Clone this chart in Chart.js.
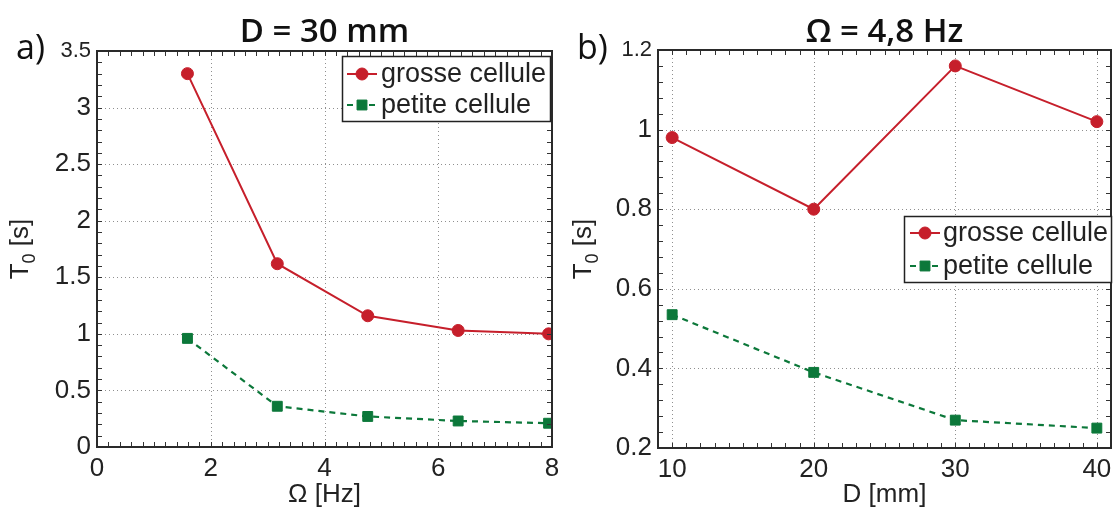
<!DOCTYPE html>
<html>
<head>
<meta charset="utf-8">
<script src="https://cdn.jsdelivr.net/npm/chart.js@4/dist/chart.umd.min.js"></script>
<style>
  html, body { margin: 0; padding: 0; background: #fff; }
  #wrap { position: relative; width: 1119px; height: 509px; overflow: hidden; }
  canvas { position: absolute; top: 0; }
</style>
</head>
<body>
<div id="wrap">
  <canvas id="panelA" width="560" height="509" style="left:0px"></canvas>
  <canvas id="panelB" width="559" height="509" style="left:560px"></canvas>
</div>
<script>
// ---------- data ----------
const seriesNames = ['grosse cellule', 'petite cellule'];

// panel a) : D = 30 mm
const omegaHz        = [1.59, 3.17, 4.76, 6.35, 7.94];
const grosseVsOmega  = [3.30, 1.62, 1.16, 1.03, 1.00];
const petiteVsOmega  = [0.96, 0.36, 0.27, 0.23, 0.21];
const omegaTicks      = [0, 2, 4, 6, 8];
const omegaTickLabels = ['0', '2', '4', '6', '8'];
const t0TicksA        = [0, 0.5, 1, 1.5, 2, 2.5, 3, 3.5];
const t0TickLabelsA   = ['0', '0.5', '1', '1.5', '2', '2.5', '3', '3.5'];

// panel b) : Omega = 4,8 Hz
const diameterMm   = [10, 20, 30, 40];
const grosseVsD    = [0.98, 0.80, 1.16, 1.02];
const petiteVsD    = [0.535, 0.39, 0.27, 0.25];
const dTicks        = [10, 20, 30, 40];
const dTickLabels   = ['10', '20', '30', '40'];
const t0TicksB      = [0.2, 0.4, 0.6, 0.8, 1, 1.2];
const t0TickLabelsB = ['0.2', '0.4', '0.6', '0.8', '1', '1.2'];

// ---------- style ----------
const RED = '#c61f2b';
const GREEN = '#0c783a';
const INK = '#222222';
const TICK_FONT = 'Liberation Sans';
const TITLE_FONT = 'Open Sans';

function labelFor(ticks, labels, v) {
  const i = ticks.findIndex(t => Math.abs(t - v) < 1e-9);
  return i >= 0 ? labels[i] : '';
}

function panelPlugin(p) {
  return {
    id: 'panelDecor' + p.key,
    beforeDatasetsDraw(chart) {
      const { ctx, chartArea: a, scales: { x, y } } = chart;
      ctx.save();
      ctx.strokeStyle = '#8f8f8f';
      ctx.lineWidth = 1;
      ctx.setLineDash([1, 3]);
      p.xTicks.forEach(v => {
        const px = Math.round(x.getPixelForValue(v)) + 0.5;
        if (px > a.left + 2 && px < a.right - 2) {
          ctx.beginPath(); ctx.moveTo(px, a.top); ctx.lineTo(px, a.bottom); ctx.stroke();
        }
      });
      p.yTicks.forEach(v => {
        const py = Math.round(y.getPixelForValue(v)) + 0.5;
        if (py > a.top + 2 && py < a.bottom - 2) {
          ctx.beginPath(); ctx.moveTo(a.left, py); ctx.lineTo(a.right, py); ctx.stroke();
        }
      });
      ctx.restore();
    },
    afterDatasetsDraw(chart) {
      const { ctx, chartArea: a, scales: { x, y } } = chart;
      ctx.save();
      ctx.setLineDash([]);
      // minor + major tick marks on all four sides (inward)
      ctx.strokeStyle = '#333';
      ctx.lineWidth = 1;
      const TL = 5;
      const xs = [];
      for (let v = x.min; v <= x.max + 1e-9; v += p.xMinor) xs.push(v);
      const ys = [];
      for (let v = y.min; v <= y.max + 1e-9; v += p.yMinor) ys.push(v);
      xs.forEach(v => {
        const px = Math.round(x.getPixelForValue(v)) + 0.5;
        ctx.beginPath();
        ctx.moveTo(px, a.bottom); ctx.lineTo(px, a.bottom - TL);
        ctx.moveTo(px, a.top); ctx.lineTo(px, a.top + TL);
        ctx.stroke();
      });
      ys.forEach(v => {
        const py = Math.round(y.getPixelForValue(v)) + 0.5;
        ctx.beginPath();
        ctx.moveTo(a.left, py); ctx.lineTo(a.left + TL, py);
        ctx.moveTo(a.right, py); ctx.lineTo(a.right - TL, py);
        ctx.stroke();
      });
      // frame
      ctx.strokeStyle = '#2a2a2a';
      ctx.lineWidth = 2;
      ctx.strokeRect(a.left, a.top, a.right - a.left, a.bottom - a.top);

      // legend
      const L = p.legend;
      ctx.fillStyle = '#fff';
      ctx.fillRect(L.x1, L.y1, L.x2 - L.x1, L.y2 - L.y1);
      ctx.strokeStyle = '#222';
      ctx.lineWidth = 1.5;
      ctx.strokeRect(L.x1 + 0.5, L.y1 + 0.5, L.x2 - L.x1, L.y2 - L.y1);
      chart.data.datasets.forEach((ds, i) => {
        const ry = L.rows[i];
        ctx.strokeStyle = ds.borderColor;
        ctx.lineWidth = ds.borderWidth;
        ctx.setLineDash(ds.borderDash || []);
        ctx.beginPath(); ctx.moveTo(L.sx1, ry); ctx.lineTo(L.sx2, ry); ctx.stroke();
        ctx.setLineDash([]);
        const cx = (L.sx1 + L.sx2) / 2;
        ctx.fillStyle = ds.backgroundColor;
        ctx.strokeStyle = ds.borderColor;
        ctx.lineWidth = 1;
        Chart.helpers.drawPoint(ctx, { pointStyle: ds.pointStyle, radius: ds.pointRadius, borderWidth: 1, rotation: 0 }, cx, ry);
        ctx.fillStyle = INK;
        ctx.font = '27px "' + TICK_FONT + '"';
        ctx.textAlign = 'left';
        ctx.textBaseline = 'middle';
        ctx.fillText(ds.label, L.tx, ry + 1);
      });

      // panel title
      ctx.fillStyle = '#111';
      ctx.font = '600 33px "' + TITLE_FONT + '"';
      ctx.textAlign = 'center';
      ctx.textBaseline = 'alphabetic';
      ctx.fillText(p.title, (a.left + a.right) / 2, 42);
      // panel letter
      ctx.font = '400 34px "' + TITLE_FONT + '"';
      ctx.textAlign = 'left';
      ctx.fillText(p.letter, p.letterX, 59);

      // x axis title
      ctx.fillStyle = INK;
      ctx.font = '26px "' + TICK_FONT + '"';
      ctx.textAlign = 'center';
      ctx.textBaseline = 'alphabetic';
      ctx.fillText(p.xTitle, (a.left + a.right) / 2, 502);

      // y axis title: T with subscript 0, then [s]
      ctx.save();
      ctx.translate(p.yTitleX, (a.top + a.bottom) / 2);
      ctx.rotate(-Math.PI / 2);
      const big = '26px "' + TICK_FONT + '"';
      const small = '18px "' + TICK_FONT + '"';
      ctx.font = big; const wT = ctx.measureText('T').width; const wS = ctx.measureText(' [s]').width;
      ctx.font = small; const w0 = ctx.measureText('0').width;
      let sx = -(wT + w0 + wS) / 2;
      ctx.textAlign = 'left';
      ctx.textBaseline = 'alphabetic';
      ctx.font = big; ctx.fillText('T', sx, 0); sx += wT;
      ctx.font = small; ctx.fillText('0', sx, 7); sx += w0;
      ctx.font = big; ctx.fillText(' [s]', sx, 0);
      ctx.restore();

      ctx.restore();
    }
  };
}

function makeChart(id, p) {
  const datasets = [
    {
      label: seriesNames[0],
      data: p.xs.map((v, i) => ({ x: v, y: p.grosse[i] })),
      borderColor: RED, backgroundColor: RED,
      borderWidth: 2, pointStyle: 'circle', pointRadius: 6, pointHoverRadius: 6,
      pointBorderWidth: 1, pointBorderColor: RED, pointBackgroundColor: RED, tension: 0
    },
    {
      label: seriesNames[1],
      data: p.xs.map((v, i) => ({ x: v, y: p.petite[i] })),
      borderColor: GREEN, backgroundColor: GREEN,
      borderWidth: 2.2, borderDash: [6, 5], pointStyle: 'rect', pointRadius: 7, pointHoverRadius: 7,
      pointBorderWidth: 1, pointBorderColor: GREEN, pointBackgroundColor: GREEN, tension: 0
    }
  ];
  const tickFont = (topValue) => (c) => {
    if (c.tick && Math.abs(c.tick.value - topValue) < 1e-9) return { family: TICK_FONT, size: 22 };
    return { family: TICK_FONT, size: 26 };
  };
  return new Chart(document.getElementById(id), {
    type: 'line',
    data: { datasets },
    options: {
      responsive: false,
      animation: false,
      events: [],
      layout: { padding: { left: 0, right: p.padRight, top: p.padTop, bottom: 0 } },
      plugins: { legend: { display: false }, tooltip: { enabled: false }, title: { display: false } },
      scales: {
        x: {
          type: 'linear', min: p.xMin, max: p.xMax,
          afterBuildTicks: s => { s.ticks = p.xTicks.map(v => ({ value: v })); },
          ticks: {
            callback: v => labelFor(p.xTicks, p.xLabels, v),
            font: { family: TICK_FONT, size: 26 }, color: INK, padding: 6,
            maxRotation: 0, minRotation: 0, autoSkip: false
          },
          grid: { display: false, drawTicks: false },
          border: { display: false },
          afterFit: s => { s.height = 509 - p.bottom; s.paddingLeft = 0; s.paddingRight = 0; }
        },
        y: {
          type: 'linear', min: p.yMin, max: p.yMax,
          afterBuildTicks: s => { s.ticks = p.yTicks.map(v => ({ value: v })); },
          ticks: {
            callback: v => labelFor(p.yTicks, p.yLabels, v),
            font: tickFont(p.yMax), color: INK, padding: 6, autoSkip: false
          },
          grid: { display: false, drawTicks: false },
          border: { display: false },
          afterFit: s => { s.width = p.left; s.paddingTop = 0; s.paddingBottom = 0; }
        }
      }
    },
    plugins: [panelPlugin(p)]
  });
}

makeChart('panelA', {
  key: 'A', xs: omegaHz, grosse: grosseVsOmega, petite: petiteVsOmega,
  xMin: 0, xMax: 8, yMin: 0, yMax: 3.5,
  xTicks: omegaTicks, xLabels: omegaTickLabels, yTicks: t0TicksA, yLabels: t0TickLabelsA,
  xMinor: 0.2, yMinor: 0.1,
  left: 97, padRight: 560 - 553, padTop: 51, bottom: 447,
  title: 'D = 30 mm', letter: 'a)', letterX: 16, xTitle: 'Ω [Hz]', yTitleX: 28,
  legend: { x1: 342, y1: 56, x2: 550, y2: 121, rows: [74, 105], sx1: 347, sx2: 377, tx: 381 }
});

makeChart('panelB', {
  key: 'B', xs: diameterMm, grosse: grosseVsD, petite: petiteVsD,
  xMin: 9, xMax: 41, yMin: 0.2, yMax: 1.2,
  xTicks: dTicks, xLabels: dTickLabels, yTicks: t0TicksB, yLabels: t0TickLabelsB,
  xMinor: 1, yMinor: 0.04,
  left: 98, padRight: 559 - 554, padTop: 50, bottom: 448,
  title: 'Ω = 4,8 Hz', letter: 'b)', letterX: 17, xTitle: 'D [mm]', yTitleX: 31,
  legend: { x1: 344, y1: 216, x2: 551, y2: 282, rows: [233, 266], sx1: 350, sx2: 380, tx: 383 }
});
</script>
</body>
</html>
